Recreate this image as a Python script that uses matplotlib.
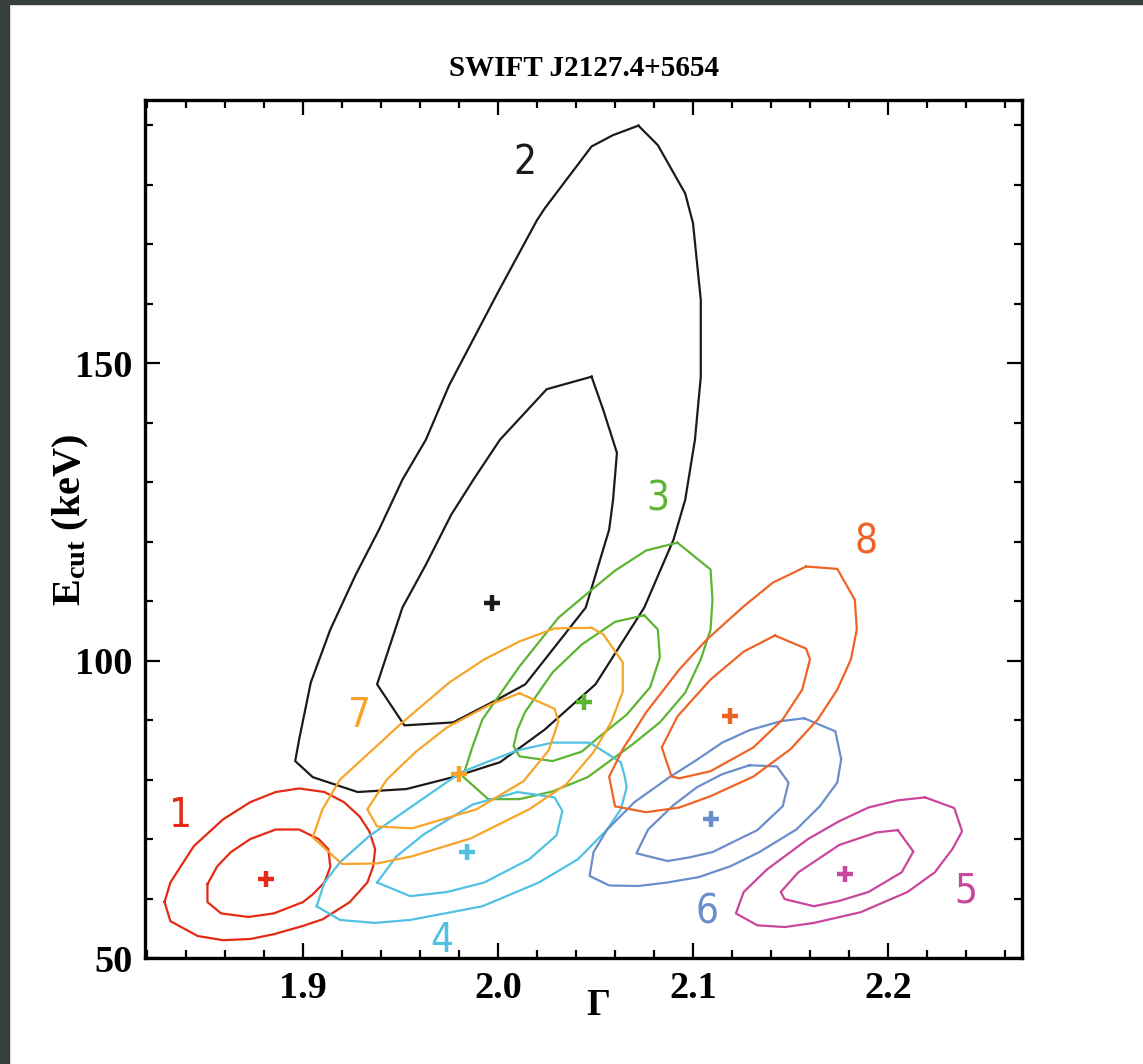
import matplotlib
matplotlib.use('Agg')
import matplotlib.pyplot as plt
from matplotlib.patches import Rectangle
from matplotlib.ticker import MultipleLocator
from matplotlib import font_manager

plt.rcParams['font.family'] = ['Liberation Serif', 'DejaVu Serif']
plt.rcParams['mathtext.fontset'] = 'custom'
plt.rcParams['mathtext.rm'] = 'Liberation Serif'
plt.rcParams['mathtext.bf'] = 'Liberation Serif:bold'

# contour lines (Gamma, Ecut), inner = 68%, outer = 90%
red_outer = [(1.829, 59.4), (1.832, 62.7), (1.844, 68.8), (1.859, 73.3), (1.873, 76.2), (1.886, 77.9),
             (1.898, 78.5), (1.911, 77.9), (1.921, 76.2), (1.929, 73.8), (1.934, 71.3), (1.937, 68.3),
             (1.936, 65.4), (1.933, 62.7), (1.924, 59.4), (1.910, 56.5), (1.900, 55.4), (1.885, 54.0),
             (1.873, 53.2), (1.859, 53.0), (1.846, 53.7), (1.832, 56.2)]
red_inner = [(1.851, 62.4), (1.856, 65.4), (1.863, 67.8), (1.873, 70.0), (1.886, 71.6), (1.898, 71.6),
             (1.908, 70.0), (1.913, 68.3), (1.914, 65.3), (1.911, 62.7), (1.905, 60.7), (1.900, 59.4),
             (1.885, 57.5), (1.872, 56.9), (1.858, 57.5), (1.851, 59.4)]

black_outer = [(2.072, 189.9), (2.082, 186.6), (2.096, 178.5), (2.100, 173.5), (2.104, 160.6), (2.104, 147.7),
               (2.101, 137.1), (2.096, 127.0), (2.090, 120.3), (2.075, 108.9), (2.050, 96.0), (2.024, 88.4),
               (2.001, 82.9), (1.977, 80.4), (1.953, 78.4), (1.928, 77.9), (1.905, 80.4), (1.896, 83.1),
               (1.898, 86.7), (1.904, 96.3), (1.914, 105.2), (1.927, 114.4), (1.939, 122.0), (1.951, 130.4),
               (1.963, 137.1), (1.975, 146.3), (2.000, 161.9), (2.020, 174.0), (2.024, 176.0), (2.048, 186.4),
               (2.059, 188.3)]
black_inner = [(2.048, 147.7), (2.054, 142.1), (2.061, 134.9), (2.059, 127.0), (2.057, 122.0), (2.045, 108.9),
               (2.014, 96.0), (2.000, 93.5), (1.977, 89.6), (1.952, 89.1), (1.938, 96.0), (1.951, 108.9),
               (1.963, 116.1), (1.976, 124.5), (1.988, 130.7), (2.001, 137.1), (2.025, 145.6)]

green_outer = [(2.092, 119.8), (2.109, 115.3), (2.110, 110.2), (2.109, 105.2), (2.104, 100.2), (2.096, 94.6),
               (2.083, 89.6), (2.069, 85.9), (2.046, 80.4), (2.028, 78.0), (2.011, 76.7), (1.995, 76.7),
               (1.982, 80.5), (1.987, 85.6), (1.992, 90.1), (2.011, 99.0), (2.031, 107.2), (2.047, 111.6),
               (2.060, 115.1), (2.076, 118.5)]
green_inner = [(2.075, 107.6), (2.082, 105.2), (2.083, 100.5), (2.078, 95.5), (2.066, 90.9), (2.052, 87.2),
               (2.043, 84.7), (2.028, 83.1), (2.011, 83.9), (2.008, 85.6), (2.010, 88.4), (2.014, 91.4),
               (2.028, 98.0), (2.043, 102.7), (2.060, 106.5)]

cyan_outer = [(1.907, 58.7), (1.919, 56.4), (1.937, 55.9), (1.955, 56.4), (1.992, 58.7), (2.021, 62.7),
              (2.041, 66.6), (2.056, 71.6), (2.063, 75.0), (2.066, 78.7), (2.065, 80.5), (2.063, 82.9),
              (2.047, 86.2), (2.028, 86.2), (2.010, 84.9), (1.994, 82.9), (1.981, 81.2), (1.955, 75.3),
              (1.934, 70.5), (1.919, 66.1), (1.911, 62.7)]
cyan_inner = [(1.938, 62.7), (1.955, 60.4), (1.974, 61.1), (1.993, 62.7), (2.016, 66.6), (2.030, 70.6),
              (2.033, 74.7), (2.029, 77.0), (2.010, 77.9), (1.987, 75.8), (1.962, 70.8), (1.948, 67.1)]

magenta_outer = [(2.219, 77.0), (2.205, 76.5), (2.190, 75.3), (2.175, 73.0), (2.159, 70.0), (2.138, 64.9),
                 (2.126, 61.1), (2.122, 57.5), (2.133, 55.5), (2.147, 55.2), (2.162, 55.9), (2.186, 57.7),
                 (2.210, 61.1), (2.224, 64.4), (2.233, 68.3), (2.238, 71.3), (2.234, 75.2)]
magenta_inner = [(2.205, 71.5), (2.194, 71.1), (2.175, 69.0), (2.154, 64.4), (2.145, 61.1), (2.147, 59.9),
                 (2.162, 58.7), (2.175, 59.6), (2.190, 61.1), (2.207, 64.4), (2.213, 67.9)]

blue_outer = [(2.157, 90.3), (2.145, 89.8), (2.129, 88.3), (2.115, 86.2), (2.101, 83.1), (2.088, 80.4),
              (2.070, 76.2), (2.056, 71.6), (2.049, 67.8), (2.047, 63.8), (2.057, 62.2), (2.072, 62.1),
              (2.087, 62.7), (2.103, 63.6), (2.119, 65.4), (2.134, 67.8), (2.153, 71.6), (2.165, 75.5),
              (2.174, 79.5), (2.176, 83.4), (2.173, 88.1)]
blue_inner = [(2.129, 82.4), (2.143, 82.2), (2.149, 79.5), (2.146, 75.5), (2.133, 71.5), (2.110, 67.8),
              (2.098, 66.9), (2.087, 66.3), (2.071, 67.6), (2.077, 71.6), (2.090, 75.7), (2.102, 78.7),
              (2.115, 80.9)]

orange_outer = [(2.048, 105.5), (2.054, 104.4), (2.064, 99.7), (2.064, 94.8), (2.058, 89.6), (2.049, 84.6),
                (2.035, 79.2), (2.016, 75.0), (1.986, 70.1), (1.956, 67.1), (1.938, 65.9), (1.920, 65.8),
                (1.905, 70.3), (1.910, 75.0), (1.919, 80.0), (1.951, 89.6), (1.975, 96.3), (1.993, 100.2),
                (2.011, 103.2), (2.029, 105.4)]
orange_inner = [(2.011, 94.5), (2.029, 91.9), (2.031, 89.8), (2.026, 84.9), (2.013, 79.7), (1.989, 75.0),
                (1.956, 71.8), (1.938, 72.1), (1.933, 75.0), (1.943, 80.0), (1.958, 84.7), (1.974, 88.8),
                (1.996, 92.6)]

vermilion_outer = [(2.158, 115.8), (2.174, 115.4), (2.183, 110.2), (2.184, 105.2), (2.181, 100.2), (2.174, 95.1),
                   (2.164, 90.1), (2.150, 85.1), (2.131, 80.5), (2.109, 77.2), (2.093, 75.3), (2.076, 74.5),
                   (2.060, 75.5), (2.057, 80.5), (2.064, 85.1), (2.076, 91.3), (2.093, 98.5), (2.107, 103.5),
                   (2.126, 109.1), (2.141, 113.1)]
vermilion_inner = [(2.142, 104.2), (2.158, 102.0), (2.160, 100.2), (2.156, 95.1), (2.146, 90.1), (2.131, 85.4),
                   (2.109, 81.4), (2.093, 80.2), (2.089, 80.5), (2.084, 85.4), (2.092, 90.6), (2.109, 96.8),
                   (2.126, 101.5)]

# best fits and label spots, observations 1..8
obs_ids = ['1', '2', '3', '4', '5', '6', '7', '8']
best_gamma = [1.881, 1.997, 2.044, 1.984, 2.178, 2.109, 1.980, 2.119]
best_ecut = [63.3, 109.6, 93.1, 67.8, 64.1, 73.3, 80.9, 90.6]
label_gamma = [1.837, 2.014, 2.082, 1.971, 2.240, 2.107, 1.929, 2.189]
label_ecut = [73.8, 183.6, 127.0, 52.8, 61.2, 57.7, 90.6, 119.8]
colors = ['#E42A14', '#1E1A1A', '#5CB531', '#4FC1E3', '#C9469C', '#6A8DCB', '#F6A52A', '#EF6426']
contours = [(red_outer, red_inner), (black_outer, black_inner), (green_outer, green_inner),
            (cyan_outer, cyan_inner), (magenta_outer, magenta_inner), (blue_outer, blue_inner),
            (orange_outer, orange_inner), (vermilion_outer, vermilion_inner)]

# narrow sans for the numbers, if one is there
names = {f.name for f in font_manager.fontManager.ttflist}
num_family = ['Liberation Sans Narrow', 'DejaVu Sans']
num_stretch = 'condensed'
if 'Liberation Sans Narrow' not in names:
    num_family = ['DejaVu Sans']

fig = plt.figure(figsize=(11.43, 10.64), dpi=100)
fig.patches.append(Rectangle((0, 0), 9 / 1143, 1, transform=fig.transFigure, color='#363e3e', zorder=-5))
fig.patches.append(Rectangle((0, 1 - 4 / 1064), 1, 4 / 1064, transform=fig.transFigure, color='#363e3e', zorder=-5))
ax = fig.add_axes([0.1269, 0.0996, 0.7672, 0.8064])

for (outer, inner), col in zip(contours, colors):
    for poly in (outer, inner):
        xs = [p[0] for p in poly] + [poly[0][0]]
        ys = [p[1] for p in poly] + [poly[0][1]]
        ax.plot(xs, ys, color=col, lw=1.6)

for i in range(len(obs_ids)):
    ax.plot(best_gamma[i], best_ecut[i], marker='+', ms=12, mew=3.2, color=colors[i], ls='none')
    ax.text(label_gamma[i], label_ecut[i], obs_ids[i], color=colors[i], fontsize=29,
            family=num_family, stretch=num_stretch, ha='center', va='center')

ax.set_xlim(1.819, 2.2687)
ax.set_ylim(50, 194.2)
ax.xaxis.set_major_locator(MultipleLocator(0.1))
ax.xaxis.set_minor_locator(MultipleLocator(0.02))
ax.yaxis.set_major_locator(MultipleLocator(50))
ax.yaxis.set_minor_locator(MultipleLocator(10))
ax.tick_params(which='both', direction='in', top=True, right=True, width=1.6)
ax.tick_params(which='major', length=11, pad=9, labelsize=27.5)
ax.tick_params(which='minor', length=6)
for lab in ax.get_xticklabels() + ax.get_yticklabels():
    lab.set_fontweight('bold')
for s in ax.spines.values():
    s.set_linewidth(2.4)

ax.set_title('SWIFT J2127.4+5654', fontsize=21, fontweight='bold', pad=17)
ax.set_xlabel('Γ', fontsize=27, fontweight='bold')
ax.xaxis.set_label_coords(0.5165, -0.035)
ax.set_ylabel(r'$\mathbf{E_{cut}}$ (keV)', fontsize=29, fontweight='bold')
ax.yaxis.set_label_coords(-0.062, 0.51)

fig.savefig('out.png', dpi=100)
